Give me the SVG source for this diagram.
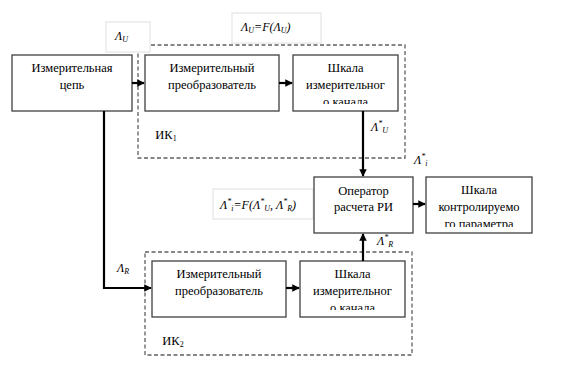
<svg xmlns="http://www.w3.org/2000/svg" width="563" height="375" viewBox="0 0 563 375">
<style>
.box{fill:#fff;stroke:#404040;stroke-width:1.3}
.dash{fill:none;stroke:#606060;stroke-width:1.3;stroke-dasharray:4,2.5}
.lbl{fill:#fff;stroke:#e0e0e0;stroke-width:1}
.t{font-family:'Liberation Serif','DejaVu Serif',serif;font-size:12.5px;fill:#000;text-anchor:middle}
.m{font-family:'Liberation Serif','DejaVu Serif',serif;font-size:12px;font-style:italic;fill:#000}
.s{font-size:8px}
.c{fill:none;stroke:#000;stroke-width:2.2}
</style>
<defs>
<marker id="ah" viewBox="0 0 10 10" refX="9" refY="5" markerWidth="3.4" markerHeight="3.4" orient="auto" markerUnits="strokeWidth">
<path d="M0,0 L10,5 L0,10 z" fill="#000"/>
</marker>
<clipPath id="c1"><rect x="293" y="55" width="105" height="49"/></clipPath>
<clipPath id="c2"><rect x="426" y="177" width="106" height="50"/></clipPath>
<clipPath id="c3"><rect x="300" y="261" width="105" height="49"/></clipPath>
</defs>

<g id="ik1">
<rect class="dash" x="138" y="45" width="267" height="113"/>
<text class="t" x="166" y="139">ИК<tspan class="s" dy="2">1</tspan></text>
</g>
<g id="ik2">
<rect class="dash" x="145" y="252" width="267" height="103"/>
<text class="t" x="173" y="345">ИК<tspan class="s" dy="2">2</tspan></text>
</g>

<g id="lblU">
<rect class="lbl" x="106" y="22" width="44" height="30"/>
<text class="m" x="115" y="40">Λ<tspan class="s" dy="2">U</tspan></text>
</g>
<g id="lblF">
<rect class="lbl" x="232" y="13" width="89" height="30"/>
<text class="m" x="241" y="31">Λ<tspan class="s" dy="2">U</tspan><tspan dy="-2">=F(Λ</tspan><tspan class="s" dy="2">U</tspan><tspan dy="-2">)</tspan></text>
</g>
<g id="lblFi">
<rect class="lbl" x="213" y="189" width="100" height="30"/>
<text class="m" x="220" y="209">Λ<tspan class="s" dy="-5">*</tspan><tspan class="s" dy="7">i</tspan><tspan dy="-2">=F(Λ</tspan><tspan class="s" dy="-5">*</tspan><tspan class="s" dy="7">U</tspan><tspan dy="-2">, Λ</tspan><tspan class="s" dy="-5">*</tspan><tspan class="s" dy="7">R</tspan><tspan dy="-2">)</tspan></text>
</g>

<g id="n1">
<rect class="box" x="12" y="55" width="120" height="56"/>
<text class="t" x="72" y="72">Измерительная</text>
<text class="t" x="72" y="89">цепь</text>
</g>
<g id="n2">
<rect class="box" x="145" y="55" width="134" height="56"/>
<text class="t" x="212" y="72">Измерительный</text>
<text class="t" x="212" y="89">преобразователь</text>
</g>
<g id="n3">
<rect class="box" x="293" y="55" width="105" height="56"/>
<g clip-path="url(#c1)">
<text class="t" x="345.5" y="72">Шкала</text>
<text class="t" x="345.5" y="89">измерительног</text>
<text class="t" x="345.5" y="106">о канала</text>
</g>
</g>
<g id="n4">
<rect class="box" x="314" y="177" width="99" height="56"/>
<text class="t" x="363.5" y="195">Оператор</text>
<text class="t" x="363.5" y="211">расчета РИ</text>
</g>
<g id="n5">
<rect class="box" x="426" y="177" width="106" height="56"/>
<g clip-path="url(#c2)">
<text class="t" x="479" y="194">Шкала</text>
<text class="t" x="479" y="211">контролируемо</text>
<text class="t" x="479" y="228">го параметра</text>
</g>
</g>
<g id="n6">
<rect class="box" x="152" y="261" width="134" height="56"/>
<text class="t" x="219" y="278">Измерительный</text>
<text class="t" x="219" y="295">преобразователь</text>
</g>
<g id="n7">
<rect class="box" x="300" y="261" width="105" height="56"/>
<g clip-path="url(#c3)">
<text class="t" x="352.5" y="278">Шкала</text>
<text class="t" x="352.5" y="295">измерительног</text>
<text class="t" x="352.5" y="312">о канала</text>
</g>
</g>

<g id="connectors">
<path class="c" d="M132,83 H144" marker-end="url(#ah)"/>
<path class="c" d="M279,83 H292" marker-end="url(#ah)"/>
<path class="c" d="M363,111 V176" marker-end="url(#ah)"/>
<path class="c" d="M413,204 H425" marker-end="url(#ah)"/>
<path class="c" d="M104,111 V288 H151" marker-end="url(#ah)"/>
<path class="c" d="M286,288 H299" marker-end="url(#ah)"/>
<path class="c" d="M363,261 V234" marker-end="url(#ah)"/>
</g>

<g id="labels">
<text class="m" x="371" y="131">Λ<tspan class="s" dy="-5">*</tspan><tspan class="s" dy="7">U</tspan></text>
<text class="m" x="414" y="164">Λ<tspan class="s" dy="-5">*</tspan><tspan class="s" dy="7">i</tspan></text>
<text class="m" x="377" y="245">Λ<tspan class="s" dy="-5">*</tspan><tspan class="s" dy="7">R</tspan></text>
<text class="m" x="117" y="272">Λ<tspan class="s" dy="2">R</tspan></text>
</g>
</svg>
